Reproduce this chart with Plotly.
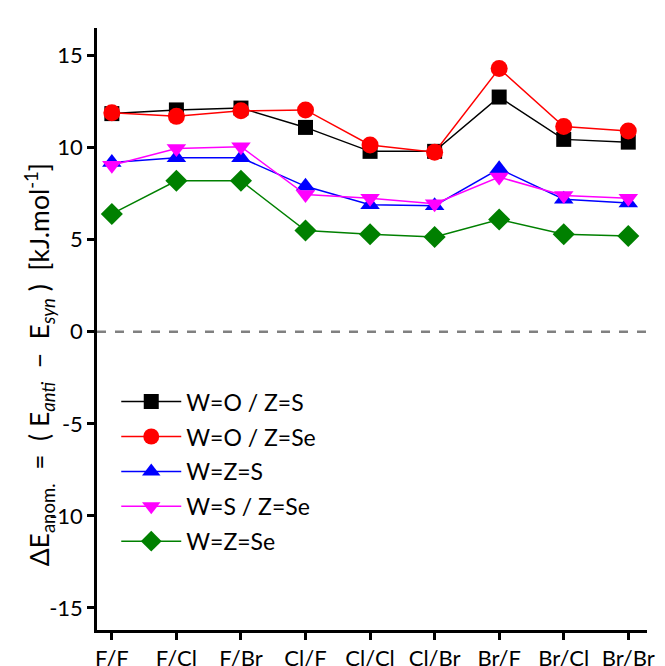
import plotly.graph_objects as go

categories = ["F/F", "F/Cl", "F/Br", "Cl/F", "Cl/Cl", "Cl/Br", "Br/F", "Br/Cl", "Br/Br"]
w_o_z_s = [11.85, 12.05, 12.15, 11.1, 9.8, 9.8, 12.75, 10.45, 10.3]
w_o_z_se = [11.9, 11.7, 12.0, 12.05, 10.15, 9.75, 14.3, 11.15, 10.9]
w_z_s = [9.2, 9.45, 9.45, 7.9, 6.9, 6.85, 8.85, 7.2, 7.0]
w_s_z_se = [9.05, 9.95, 10.05, 7.45, 7.25, 6.95, 8.4, 7.4, 7.25]
w_z_se = [6.4, 8.2, 8.2, 5.5, 5.3, 5.15, 6.1, 5.3, 5.2]
series_names = ["W=O / Z=S", "W=O / Z=Se", "W=Z=S", "W=S / Z=Se", "W=Z=Se"]
y_ticks = [-15, -10, -5, 0, 5, 10, 15]
y_tick_labels = ["-15", "-10", "-5", "0", "5", "10", "15"]
y_title = ("ΔE<sub>anom.</sub>  =  ( E<sub><i>anti</i></sub>  −  E<sub><i>syn</i></sub> )  "
           "[kJ.mol<sup>-1</sup>]")

series = [w_o_z_s, w_o_z_se, w_z_s, w_s_z_se, w_z_se]
colors = ["black", "red", "blue", "magenta", "green"]
symbols = ["square", "circle", "triangle-up", "triangle-down", "diamond"]
sizes = [15, 17, 17, 17, 17]
x_idx = list(range(len(categories)))

fig = go.Figure()
for i, (name, vals, c, s, sz) in enumerate(zip(series_names, series, colors, symbols, sizes)):
    fig.add_trace(go.Scatter(
        x=x_idx, y=vals, name=name, mode="lines+markers", legendgroup=f"g{i}",
        line=dict(color=c, width=1.5),
        marker=dict(color=c, symbol=s, size=sz, line=dict(width=0)),
    ))

fig.add_shape(type="line", xref="paper", x0=0, x1=1, yref="y", y0=0, y1=0,
              line=dict(color="gray", width=2.5, dash="dash"), layer="below")

fig.add_annotation(text=y_title, xref="paper", yref="paper", x=-0.105, y=0.44,
                   xanchor="center", yanchor="middle", textangle=-90, showarrow=False,
                   font=dict(size=26.5, color="black"))

font_family = "Lato, 'Open Sans', sans-serif"
fig.update_layout(
    width=665, height=666,
    margin=dict(l=89, r=26, t=20, b=44),
    plot_bgcolor="white", paper_bgcolor="white",
    font=dict(family=font_family, size=22, color="black"),
    showlegend=True,
    legend=dict(x=0.035, y=0.415, xanchor="left", yanchor="top",
                bgcolor="rgba(0,0,0,0)", font=dict(size=23),
                tracegroupgap=2, itemwidth=60),
    xaxis=dict(
        range=[-0.23, 8.29], tickvals=x_idx, ticktext=categories,
        showline=True, linecolor="black", linewidth=2.5,
        ticks="outside", ticklen=7, tickwidth=2.5, tickcolor="black",
        showgrid=False, zeroline=False, tickfont=dict(size=22),
        automargin=False,
    ),
    yaxis=dict(
        range=[-16.2, 16.5], tickvals=y_ticks, ticktext=y_tick_labels,
        showline=True, linecolor="black", linewidth=2.5,
        ticks="outside", ticklen=7, tickwidth=2.5, tickcolor="black",
        showgrid=False, zeroline=False, tickfont=dict(size=22),
        automargin=False,
    ),
)

fig.write_html("out.html")
